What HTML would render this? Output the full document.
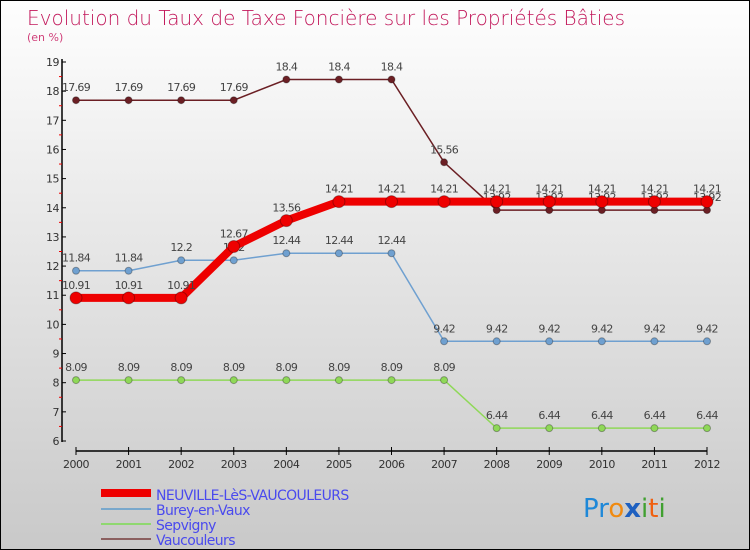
<!DOCTYPE html>
<html><head><meta charset="utf-8"><style>
body{margin:0}
#c{width:750px;height:550px;position:relative;background:linear-gradient(#fefefe,#c9c9c9);border:1px solid #000;box-sizing:border-box;overflow:hidden;font-family:"DejaVu Sans","Liberation Sans",sans-serif}
</style></head><body>
<div id="c">
<svg id="s" width="750" height="550">
<text x="26" y="24" font-size="20" fill="#c2185b" font-family="DejaVu Sans,sans-serif" font-weight="200">Evolution du Taux de Taxe Foncière sur les Propriétés Bâties</text>
<text x="26" y="40" font-size="11" fill="#d0407a">(en %)</text>
<g id="g"></g>
<rect x="100" y="488" width="50" height="8" fill="#e00"/>
<rect x="100" y="507" width="50" height="2" fill="#79a8cc"/>
<rect x="100" y="522" width="50" height="2" fill="#8fd870"/>
<rect x="100" y="537" width="50" height="2" fill="#8b6060"/>
<g font-size="14" fill="#4a4aee" font-family="DejaVu Sans,sans-serif" letter-spacing="-0.6">
<text x="155" y="499">NEUVILLE-LèS-VAUCOULEURS</text>
<text x="155" y="514">Burey-en-Vaux</text>
<text x="155" y="529">Sepvigny</text>
<text x="155" y="544">Vaucouleurs</text>
</g>
<g font-size="26" font-family="DejaVu Sans,sans-serif">
<text x="582" y="516"><tspan fill="#1e88d8">Pr</tspan><tspan fill="#f08a10">o</tspan><tspan fill="#1e60c0" font-weight="bold">x</tspan><tspan fill="#40a030">i</tspan><tspan fill="#f06010">t</tspan><tspan fill="#40a030">i</tspan></text>
</g>
</svg></div>
<script>
const years=[2000,2001,2002,2003,2004,2005,2006,2007,2008,2009,2010,2011,2012];
const yTicks=[6,7,8,9,10,11,12,13,14,15,16,17,18,19];
const neuville=[10.91,10.91,10.91,12.67,13.56,14.21,14.21,14.21,14.21,14.21,14.21,14.21,14.21];
const burey=[11.84,11.84,12.2,12.2,12.44,12.44,12.44,9.42,9.42,9.42,9.42,9.42,9.42];
const sepvigny=[8.09,8.09,8.09,8.09,8.09,8.09,8.09,8.09,6.44,6.44,6.44,6.44,6.44];
const vaucouleurs=[17.69,17.69,17.69,17.69,18.4,18.4,18.4,15.56,13.92,13.92,13.92,13.92,13.92];
const X=i=>75+i*(631/12), Y=v=>440-(v-6)*(379/13);
const g=document.getElementById('g'),NS='http://www.w3.org/2000/svg';
function el(t,a,p){const e=document.createElementNS(NS,t);for(const k in a)e.setAttribute(k,a[k]);(p||g).appendChild(e);return e;}
let e=el('line',{x1:61,y1:58,x2:61,y2:441,stroke:'#000','stroke-width':1.5});

e=el('line',{x1:75,y1:450,x2:706,y2:450,stroke:'#000','stroke-width':1.5});

yTicks.forEach(v=>{el('line',{x1:61,y1:Y(v),x2:65,y2:Y(v),stroke:'#000'});
 if(v<19)el('line',{x1:58,y1:Y(v+0.5),x2:61,y2:Y(v+0.5),stroke:'#e00'});
 const t=el('text',{x:58,y:Y(v)+4,'font-size':11,fill:'#333','text-anchor':'end','letter-spacing':'-0.5'});t.textContent=v;
 });
years.forEach((y,i)=>{el('line',{x1:X(i),y1:446,x2:X(i),y2:454,stroke:'#000'});
 const t=el('text',{x:X(i),y:467,'font-size':11,fill:'#333','text-anchor':'middle','letter-spacing':'-0.5'});t.textContent=y;
 });
function series(d,c,w,r,name,lab){
 const p=el('polyline',{points:d.map((v,i)=>X(i)+','+Y(v)).join(' '),fill:'none',stroke:c,'stroke-width':w});
 
 d.forEach((v,i)=>{const m=el('circle',{cx:X(i),cy:Y(v),r:r,fill:c,stroke:'rgba(0,0,0,0.3)'});
  
  const t=el('text',{x:X(i),y:Y(v)-9,'font-size':11,fill:'#444','text-anchor':'middle','letter-spacing':'-0.7'});t.textContent=v;
  });
}
series(sepvigny,'#8fd858',1.5,3.5,'sepvigny');
series(burey,'#6fa0d0',1.5,3.5,'burey');
series(vaucouleurs,'#6b1f24',1.5,3.5,'vaucouleurs');
series(neuville,'#ee0000',8,6,'neuville');
</script>
</body></html>
